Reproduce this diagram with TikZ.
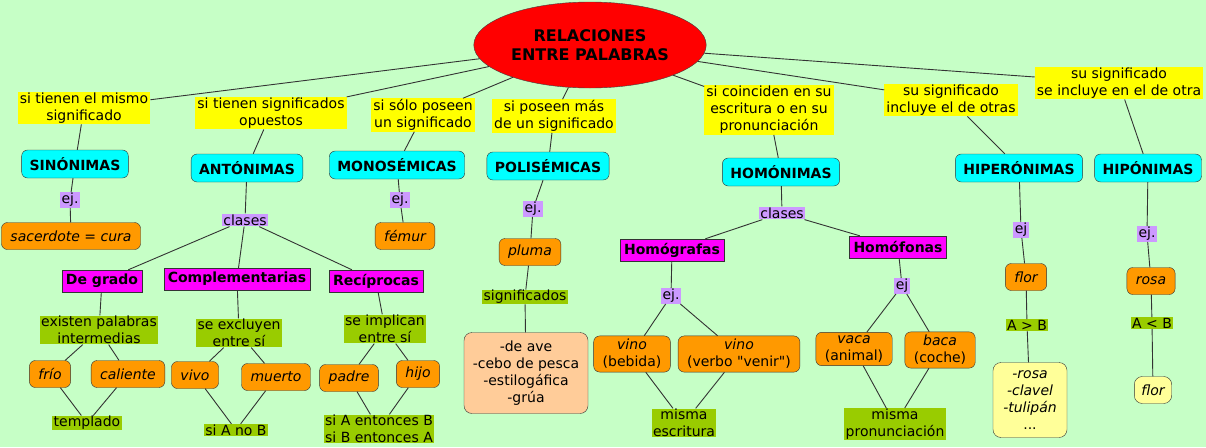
\documentclass[tikz,border=0pt]{standalone}
\usepackage{fontspec}
\setmainfont{DejaVu Sans}
\newfontfamily\quotefont{DejaVu Sans}
\usetikzlibrary{shapes.geometric}
\definecolor{meadow}{HTML}{C6FFC6}
\definecolor{rootred}{HTML}{FF0000}
\definecolor{askyellow}{HTML}{FFFF00}
\definecolor{classcyan}{HTML}{00FFFF}
\definecolor{taglilac}{HTML}{CC99FF}
\definecolor{kindpink}{HTML}{FF00FF}
\definecolor{sampleorange}{HTML}{FF9900}
\definecolor{notegreen}{HTML}{99CC00}
\definecolor{senseskin}{HTML}{FFCC99}
\definecolor{listcream}{HTML}{FFFF99}
\newcommand{\mapsize}{\fontsize{14pt}{17pt}\selectfont}

\begin{document}
\begin{tikzpicture}[x=1pt,y=-1pt,
  rootbox/.style={ellipse,draw=black!75,fill=rootred,minimum width=190pt,minimum height=86pt,align=center,
    font=\fontsize{16pt}{19pt}\selectfont\bfseries},
  askbox/.style={fill=askyellow,align=center,inner xsep=2pt,inner ysep=1pt,font=\mapsize},
  classbox/.style={draw=black!80,fill=classcyan,rounded corners=6pt,minimum height=28pt,inner xsep=8pt,font=\mapsize\bfseries},
  tagbox/.style={fill=taglilac,inner xsep=1.5pt,inner ysep=1pt,font=\mapsize},
  kindbox/.style={draw=black!80,fill=kindpink,minimum height=22pt,inner xsep=4pt,inner ysep=1pt,font=\mapsize\bfseries},
  samplebox/.style={draw=black!80,fill=sampleorange,rounded corners=6pt,minimum height=27pt,inner xsep=9pt,align=center,
    font=\mapsize\itshape},
  notebox/.style={fill=notegreen,align=center,inner xsep=1.5pt,inner ysep=0.5pt,font=\mapsize},
  listbox/.style={draw=black!80,rounded corners=8pt,align=center,font=\mapsize},
  wire/.style={black!80,line width=0.9pt}]
  \useasboundingbox (0,0) rectangle (1206,447);
  \fill[meadow] (0,0) rectangle (1206,447);
  % root and the questions hanging from it
  \node[rootbox] (top) at (590,45) {RELACIONES\\ENTRE PALABRAS};
  \node[askbox] (q1) at (84,108) {si tienen el mismo\\significado};
  \node[askbox] (q2) at (271,113) {si tienen significados\\opuestos};
  \node[askbox] (q3) at (423,115) {si sólo poseen\\un significado};
  \node[askbox] (q4) at (554,116) {si poseen más\\de un significado};
  \node[askbox] (q5) at (769,110) {si coinciden en su\\escritura o en su\\pronunciación};
  \node[askbox] (q6) at (951,100) {su significado\\incluye el de otras};
  \node[askbox] (q7) at (1119,83) {su significado\\se incluye en el de otra};
  \foreach \gname/\gx/\gy/\gtext in {sin/75/164/SINÓNIMAS, ant/247/168/ANTÓNIMAS, mono/397/165/MONOSÉMICAS,
      poli/548/166/POLISÉMICAS, homo/781/172/HOMÓNIMAS, hiper/1019/168/HIPERÓNIMAS, hipo/1148/168/HIPÓNIMAS}
    \node[classbox] (\gname) at (\gx,\gy) {\gtext};
  % sinonimas, monosemicas, polisemicas
  \node[tagbox] (sinej) at (70,200) {ej.};
  \node[samplebox] (sacerdote) at (71,236) {sacerdote = cura};
  \node[tagbox] (monoej) at (400,200) {ej.};
  \node[samplebox] (femur) at (405,236) {fémur};
  \node[tagbox] (poliej) at (533,209) {ej.};
  \node[samplebox] (pluma) at (530,252) {pluma};
  \node[notebox] (signif) at (525,297) {significados};
  \node[listbox,fill=senseskin,minimum width=124pt,minimum height=81pt] (senses) at (526,373)
    {-de ave\\-cebo de pesca\\-estilogáfica\\-grúa};
  % antonimas
  \node[tagbox] (antcl) at (245,220) {clases};
  \node[kindbox] (grado) at (102,281) {De grado};
  \node[kindbox] (compl) at (237,279) {Complementarias};
  \node[kindbox] (recip) at (376,281) {Recíprocas};
  \node[notebox] (grnote) at (99,330) {existen palabras\\intermedias};
  \node[notebox] (cpnote) at (239,333) {se excluyen\\entre sí};
  \node[notebox] (rcnote) at (385,329) {se implican\\entre sí};
  \node[samplebox] (frio) at (50,374) {frío};
  \node[samplebox] (caliente) at (128,374) {caliente};
  \node[samplebox] (vivo) at (195,375) {vivo};
  \node[samplebox] (muerto) at (276,377) {muerto};
  \node[samplebox] (padre) at (349,378) {padre};
  \node[samplebox] (hijo) at (418,374) {hijo};
  \node[notebox] (templado) at (87,423) {templado};
  \node[notebox] (sianob) at (236,430) {si A no B};
  \node[notebox] (siab) at (379,429) {si A entonces B\\si B entonces A};
  % homonimas
  \node[tagbox] (homocl) at (782,213) {clases};
  \node[kindbox] (grafas) at (672,250) {Homógrafas};
  \node[kindbox] (fonas) at (898,247) {Homófonas};
  \node[tagbox] (grej) at (671,296) {ej.};
  \node[samplebox] (vinoa) at (632,354) {vino\\\upshape(bebida)};
  \node[samplebox] (vinob) at (739,354) {vino\\\upshape(verbo {\quotefont"}venir{\quotefont"})};
  \node[notebox] (escrit) at (684,423) {misma\\escritura};
  \node[tagbox] (foej) at (902,286) {ej};
  \node[samplebox] (vaca) at (854,349) {vaca\\\upshape(animal)};
  \node[samplebox] (baca) at (940,350) {baca\\\upshape(coche)};
  \node[notebox] (pronun) at (895,424) {misma\\pronunciación};
  % hiperonimas, hiponimas
  \node[tagbox] (hiperej) at (1021,230) {ej};
  \node[samplebox] (flor) at (1026,277) {flor};
  \node[notebox] (agtb) at (1027,325) {A > B};
  \node[listbox,fill=listcream,font=\mapsize\itshape,minimum width=74pt,minimum height=75pt] (florlist) at (1030,400)
    {-rosa\\-clavel\\-tulipán\\\upshape...};
  \node[tagbox] (hipoej) at (1147,234) {ej.};
  \node[samplebox] (rosa) at (1151,281) {rosa};
  \node[notebox] (altb) at (1152,323) {A < B};
  \node[listbox,fill=listcream,font=\mapsize\itshape,minimum height=27pt,inner xsep=7pt] (florup) at (1153,390) {flor};
  \foreach \from/\to in {top/q1,top/q2,top/q3,top/q4,top/q5,top/q6,top/q7,
      q1/sin,q2/ant,q3/mono,q4/poli,q5/homo,q6/hiper,q7/hipo,
      sin/sinej,sinej/sacerdote,mono/monoej,monoej/femur,
      poli/poliej,poliej/pluma,pluma/signif,signif/senses,
      ant/antcl,antcl/grado,antcl/compl,antcl/recip,
      grado/grnote,grnote/frio,grnote/caliente,frio/templado,caliente/templado,
      compl/cpnote,cpnote/vivo,cpnote/muerto,vivo/sianob,muerto/sianob,
      recip/rcnote,rcnote/padre,rcnote/hijo,padre/siab,hijo/siab,
      homo/homocl,homocl/grafas,homocl/fonas,
      grafas/grej,grej/vinoa,grej/vinob,vinoa/escrit,vinob/escrit,
      fonas/foej,foej/vaca,foej/baca,vaca/pronun,baca/pronun,
      hiper/hiperej,hiperej/flor,flor/agtb,agtb/florlist,
      hipo/hipoej,hipoej/rosa,rosa/altb,altb/florup}
    \draw[wire] (\from) -- (\to);
\end{tikzpicture}
\end{document}
